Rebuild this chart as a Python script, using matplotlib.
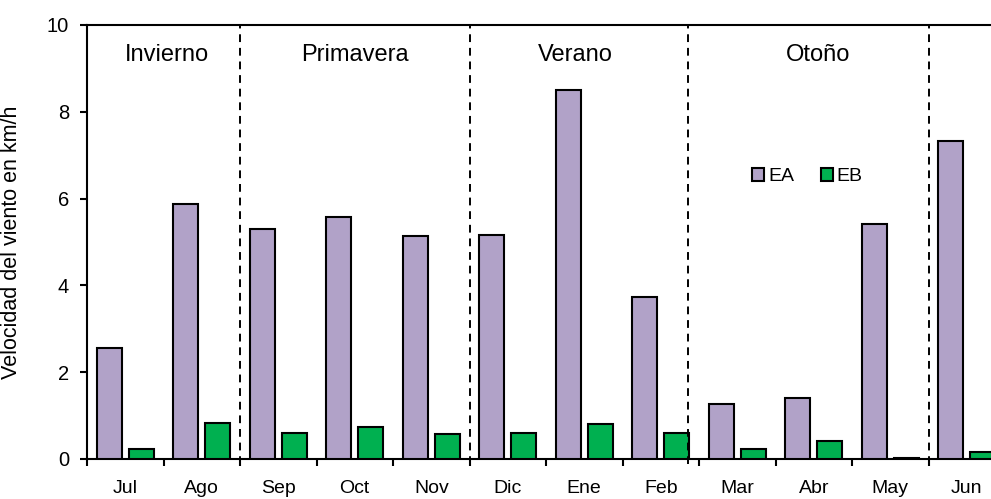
import matplotlib
matplotlib.use("Agg")
import matplotlib.pyplot as plt
import numpy as np
from matplotlib.ticker import FixedLocator

plt.rcParams['font.family'] = ['Liberation Sans', 'DejaVu Sans']

months = ["Jul", "Ago", "Sep", "Oct", "Nov", "Dic", "Ene", "Feb", "Mar", "Abr", "May", "Jun"]
ea = [2.56, 5.88, 5.30, 5.58, 5.14, 5.16, 8.50, 3.73, 1.27, 1.41, 5.41, 7.33]
eb = [0.22, 0.82, 0.60, 0.74, 0.58, 0.60, 0.80, 0.60, 0.23, 0.42, 0.02, 0.15]
seasons = ["Invierno", "Primavera", "Verano", "Otoño"]
season_pos = [0.55, 3.0, 5.88, 9.05]
divider_pos = [1.5, 4.5, 7.35, 10.5]

W, H = 991, 499
fig = plt.figure(figsize=(W / 100, H / 100), dpi=100)
left, right, top, bottom = 87, 991, 25, 459
ax = fig.add_axes([left / W, (H - bottom) / H, (right - left) / W, (bottom - top) / H])

x = np.arange(len(months))
bw = 0.33
ax.bar(x - 0.21, ea, bw, color="#B1A2C8", edgecolor="black", linewidth=1.5, label="EA", zorder=3)
ax.bar(x + 0.21, eb, bw, color="#00B050", edgecolor="black", linewidth=1.5, label="EB", zorder=3)

ax.set_xlim(-0.5, -0.5 + (right - left) / 76.5)
ax.set_ylim(0, 10)

for d in divider_pos:
    ax.plot([d, d], [-0.12, 10], color="black", lw=1.4, ls=(0, (4, 3)), clip_on=False, zorder=4)

for s, p in zip(seasons, season_pos):
    ax.text(p, 9.3, s, ha="center", va="center", fontsize=17)

ax.set_yticks([0, 2, 4, 6, 8, 10])
ax.tick_params(axis="y", direction="out", length=5, width=1.5, labelsize=14.5, pad=8)
ax.set_xticks(x)
ax.set_xticklabels(months)
ax.tick_params(axis="x", which="major", length=0, labelsize=14, pad=15)
ax.xaxis.set_minor_locator(FixedLocator(np.arange(-0.5, 12, 1.0)))
ax.tick_params(axis="x", which="minor", direction="out", length=5, width=1.5)

for sp in ["left", "bottom", "top"]:
    ax.spines[sp].set_linewidth(1.5)
ax.spines["right"].set_visible(False)

ax.set_ylabel("Velocidad del viento en km/h", fontsize=15.5)
ax.yaxis.set_label_coords(-(left - 22) / (right - left), 0.5)

ax.legend(loc="center", bbox_to_anchor=(0.797, 0.65), ncol=2, frameon=False,
          fontsize=14, handlelength=0.6, handleheight=0.6, handletextpad=0.2,
          columnspacing=1.4)

fig.savefig("out.png", dpi=100)
